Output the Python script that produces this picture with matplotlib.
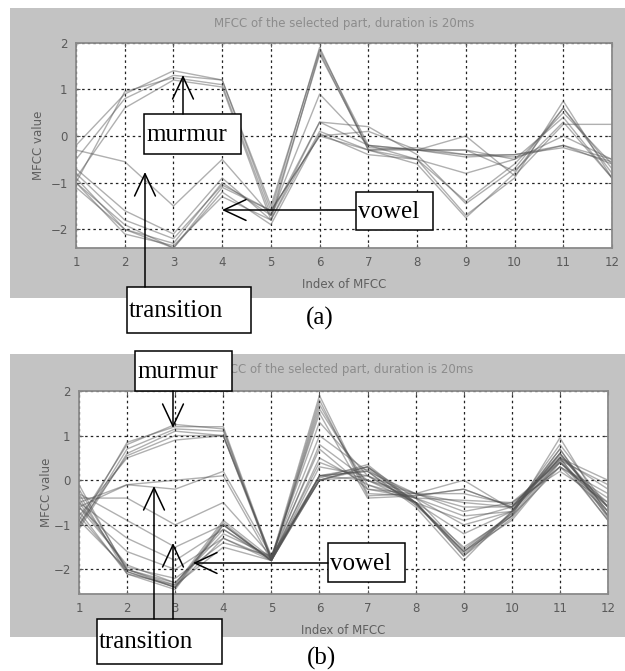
from matplotlib import pyplot as plt;
from matplotlib.patches import Rectangle, FancyArrowPatch;

W, H = 625, 671;

mfcc_index = [1, 2, 3, 4, 5, 6, 7, 8, 9, 10, 11, 12];
y_ticks = [-2, -1, 0, 1, 2];
title_text = "MFCC of the selected part, duration is 20ms";
x_label = "Index of MFCC";
y_label = "MFCC value";

# panel (a): frames of the selected 20ms part
a_murmur = [
    [-0.2, 0.9, 1.4, 1.2, -1.5, 1.85, -0.2, -0.3, -0.3, -0.5, 0.0, -0.5],
    [-0.5, 0.8, 1.3, 1.2, -1.6, 1.9, -0.3, -0.3, -0.4, -0.4, -0.2, -0.6],
    [-0.9, 0.6, 1.2, 1.05, -1.8, 1.8, -0.3, -0.25, -0.4, -0.45, -0.2, -0.5],
    [-1.0, 0.95, 1.25, 1.1, -1.7, 1.75, -0.25, -0.3, -0.45, -0.4, -0.25, -0.55],
];
a_transition = [
    [-0.3, -0.55, -1.5, -0.5, -1.7, 0.9, -0.2, -0.5, -0.8, -0.5, 0.4, -0.9],
    [-0.7, -1.6, -2.1, -0.9, -1.8, 0.3, 0.2, -0.4, -1.45, -0.7, 0.6, -0.8],
];
a_vowel = [
    [-1.0, -1.9, -2.4, -1.1, -1.6, 0.0, -0.3, -0.5, -1.4, -0.6, 0.5, -0.6],
    [-1.1, -2.0, -2.4, -1.2, -1.9, 0.05, -0.4, -0.5, -1.7, -0.9, 0.75, -0.9],
    [-1.0, -2.1, -2.35, -1.3, -1.8, 0.1, -0.3, -0.6, -1.75, -0.8, 0.6, -0.7],
    [-0.9, -2.0, -2.3, -1.0, -1.7, 0.3, -0.2, -0.3, 0.0, -0.85, 0.25, 0.25],
    [-0.8, -1.8, -2.2, -1.05, -1.6, 0.0, 0.1, -0.3, -0.3, -0.75, 0.3, -0.9],
];

# panel (b)
b_murmur = [
    [-1.0, 0.85, 1.2, 1.2, -1.75, 1.9, -0.3, -0.35, -0.2, -0.6, 0.5, 0.0],
    [-0.9, 0.8, 1.25, 1.15, -1.8, 1.7, -0.2, -0.3, -0.3, -0.55, 0.45, -0.1],
    [-1.1, 0.6, 1.1, 1.0, -1.75, 1.5, -0.4, -0.35, -0.2, -0.6, 0.55, -0.6],
    [-1.0, 0.55, 1.0, 1.0, -1.8, 1.6, -0.1, -0.4, -0.45, -0.5, 0.4, -0.5],
    [-0.8, 0.5, 0.9, 1.0, -1.7, 1.3, 0.1, -0.3, -0.5, -0.6, 0.3, -0.4],
    [-1.05, 0.7, 1.15, 1.1, -1.8, 1.8, -0.35, -0.3, 0.0, -0.65, 0.5, -0.2],
];
b_transition = [
    [-0.6, -0.1, -0.2, 0.2, -1.7, 1.0, 0.2, -0.3, -0.6, -0.6, 0.3, -0.3],
    [-0.5, -0.1, 0.0, 0.1, -1.8, 0.8, 0.0, -0.3, -0.7, -0.5, 0.2, -0.5],
    [-0.4, -0.4, -1.0, -0.5, -1.7, 0.7, -0.2, -0.4, -0.8, -0.7, 0.4, -0.6],
    [-0.3, -0.9, -1.5, -1.0, -1.8, 0.5, -0.1, -0.5, -0.9, -0.6, 0.6, -0.7],
    [-0.5, -1.3, -1.8, -1.1, -1.75, 0.4, 0.0, -0.4, -1.0, -0.7, 0.7, -0.8],
    [-0.6, -1.6, -2.0, -1.3, -1.8, 0.3, 0.1, -0.5, -1.2, -0.7, 0.8, -0.6],
];
b_vowel = [
    [-0.2, -2.0, -2.4, -1.0, -1.8, 0.0, 0.3, -0.5, -1.6, -0.8, 0.95, -0.8],
    [-0.3, -2.1, -2.35, -0.9, -1.75, 0.05, 0.35, -0.5, -1.7, -0.7, 0.6, -0.7],
    [-0.4, -2.0, -2.3, -1.1, -1.8, 0.1, 0.2, -0.55, -1.5, -0.8, 0.5, -0.9],
    [-0.6, -1.9, -2.3, -1.2, -1.7, 0.0, 0.1, -0.5, -1.6, -0.9, 0.4, -0.6],
    [-0.7, -2.1, -2.45, -1.0, -1.8, 0.1, 0.2, -0.6, -1.8, -0.7, 0.5, -0.8],
    [-0.8, -2.05, -2.4, -1.3, -1.75, 0.0, 0.3, -0.4, -1.55, -0.75, 0.6, -0.6],
    [-0.5, -1.95, -2.2, -1.4, -1.7, 0.1, 0.0, -0.5, -1.65, -0.8, 0.3, -0.7],
    [-0.9, -2.0, -2.35, -1.5, -1.8, 0.0, 0.25, -0.5, -1.7, -0.85, 0.45, -0.9],
    [-0.1, -2.05, -2.4, -0.95, -1.8, 0.1, 0.3, -0.55, -1.6, -0.75, 0.7, -0.85],
];

fig = plt.figure(figsize=(W / 100, H / 100), dpi=100);

def fx(x): return x / W;
def fy(y): return 1 - y / H;

def frame(x0, y0, x1, y1, fc, ec, lw, z):
    fig.add_artist(Rectangle((fx(x0), fy(y1)), fx(x1) - fx(x0), fy(y0) - fy(y1),
                             transform=fig.transFigure, facecolor=fc, edgecolor=ec, lw=lw, zorder=z));

def label_box(x0, y0, x1, y1, s):
    frame(x0, y0, x1, y1, "white", "black", 1.1, 5);
    fig.text(fx(x0 + 2), fy((y0 + y1) / 2 + 1), s, family="Liberation Serif", fontsize=18,
             ha="left", va="center", zorder=6);

def arrow(xa, ya, xb, yb):
    fig.add_artist(FancyArrowPatch((fx(xa), fy(ya)), (fx(xb), fy(yb)), transform=fig.transFigure,
                                   arrowstyle="->,head_length=1.6,head_width=0.75", mutation_scale=10,
                                   lw=1.1, color="black", shrinkA=0, shrinkB=0, zorder=6));

def panel(box, axbox, ylim, groups, ylab_x):
    frame(box[0], box[1], box[2], box[3], "#c3c3c3", "none", 0, -1);
    l, t, r, b = axbox;
    ax = fig.add_axes([fx(l), fy(b), fx(r) - fx(l), fy(t) - fy(b)]);
    for grp in groups:
        for vals in grp:
            ax.plot(mfcc_index, vals, color="#505050", lw=1.0, alpha=0.45);
    ax.set_xlim(1, 12);
    ax.set_ylim(*ylim);
    ax.set_xticks(mfcc_index);
    ax.set_yticks(y_ticks);
    ax.grid(True, color="#222222", lw=0.9, linestyle=(0, (2, 2.5)));
    ax.tick_params(direction="in", length=3, colors="#5a5a5a", labelsize=8.5, pad=6, top=True, right=True);
    for s in ax.spines.values():
        s.set_color("#8a8a8a");
        s.set_linewidth(1.3);
    cx = (l + r) / 2;
    fig.text(fx(cx), fy(box[1] + 15), title_text, ha="center", va="center", fontsize=8.5, color="#8c8c8c");
    fig.text(fx(cx), fy(b + 37), x_label, ha="center", va="center", fontsize=8.5, color="#5f5f5f");
    fig.text(fx(ylab_x), fy((t + b) / 2), y_label, ha="center", va="center", rotation=90, fontsize=8.5, color="#5f5f5f");
    return ax;

panel((10, 8, 625, 298), (76, 42.7, 612, 248), (-2.4, 2), [a_murmur, a_transition, a_vowel], 38);
panel((10, 354, 625, 637), (79, 391, 608, 594), (-2.55, 2), [b_murmur, b_transition, b_vowel], 47);

# annotations (a)
label_box(144, 114, 241, 154, "murmur");
arrow(183, 114, 183, 75);
label_box(127, 287, 251, 333, "transition");
arrow(145, 287, 145, 172);
label_box(356, 192, 433, 230, "vowel");
arrow(356, 210, 222, 210);
fig.text(fx(320), fy(318), "(a)", family="Liberation Serif", fontsize=18, ha="center", va="center");

# annotations (b)
label_box(135, 351, 232, 391, "murmur");
arrow(173, 391, 173, 428);
label_box(97, 619, 222, 664, "transition");
arrow(154, 619, 154, 486);
arrow(173, 619, 173, 543);
label_box(328, 543, 405, 582, "vowel");
arrow(328, 563, 193, 563);
fig.text(fx(322), fy(658), "(b)", family="Liberation Serif", fontsize=18, ha="center", va="center");

fig.savefig("out.png", dpi=100);
